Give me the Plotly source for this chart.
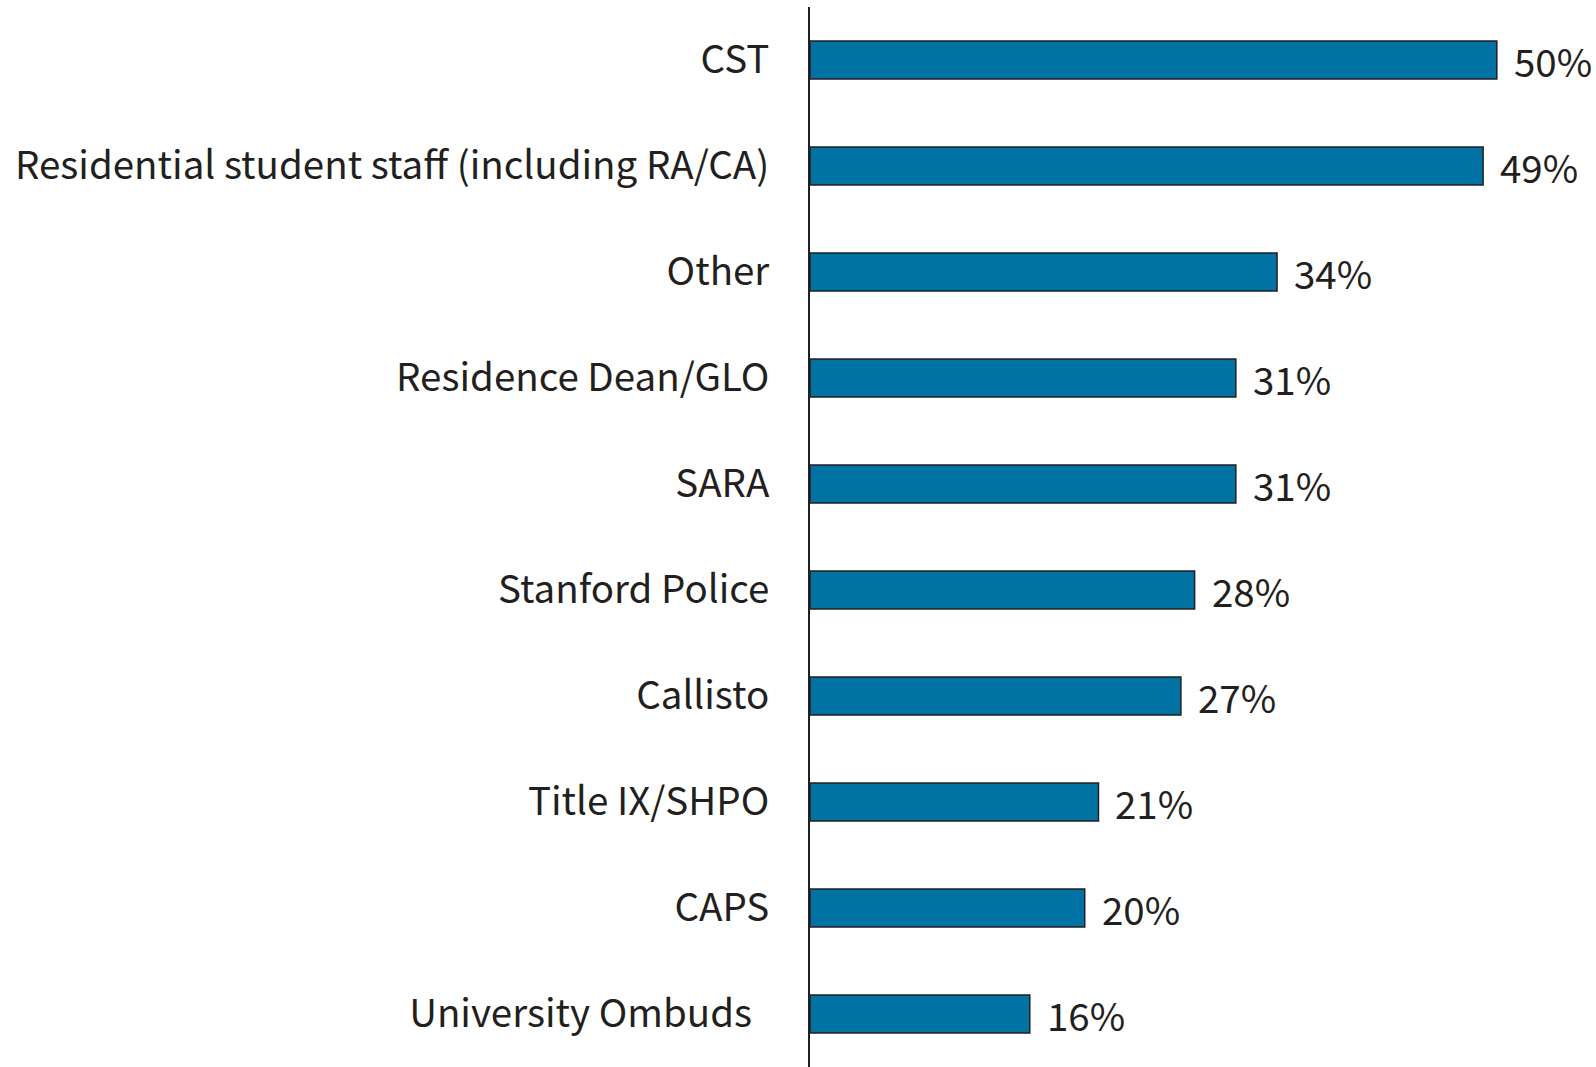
import plotly.graph_objects as go

categories = ["CST", "Residential student staff (including RA/CA)", "Other",
              "Residence Dean/GLO", "SARA", "Stanford Police", "Callisto",
              "Title IX/SHPO", "CAPS", "University Ombuds\u00a0\u00a0"]
values = [50, 49, 34, 31, 31, 28, 27, 21, 20, 16]
labels = ["50%", "49%", "34%", "31%", "31%", "28%", "27%", "21%", "20%", "16%"]

ink = "#231F20"
font_family = "Noto Sans CJK SC, Source Sans Pro, sans-serif"
fsize = 38.5

fig = go.Figure(go.Bar(
    y=categories, x=values, orientation="h",
    marker=dict(color="#0072A3", line=dict(color=ink, width=1.5)),
    width=0.36,
))

for c, v, t in zip(categories, values, labels):
    fig.add_annotation(x=v, y=c, text=t, showarrow=False, xanchor="left",
                       yanchor="middle", xshift=15, yshift=0,
                       font=dict(family=font_family, size=fsize, color=ink))

fig.update_layout(
    width=1596, height=1067,
    margin=dict(l=810, r=3, t=7, b=0, autoexpand=False),
    plot_bgcolor="white", paper_bgcolor="white",
    showlegend=False,
    font=dict(family=font_family, size=fsize, color=ink),
)
fig.update_yaxes(range=[9.5, -0.5], autorange=False, showgrid=False,
                 showline=True, linecolor=ink, linewidth=2,
                 ticks="", ticklabelstandoff=31, automargin=False,
                 tickfont=dict(family=font_family, size=fsize, color=ink))
fig.update_xaxes(range=[0, 57], showgrid=False, zeroline=False,
                 showticklabels=False, showline=False, automargin=False)

fig.write_html(
    "out.html",
    config={"displayModeBar": False},
    post_script="document.body.style.margin='0';document.body.style.overflow='hidden';",
)
